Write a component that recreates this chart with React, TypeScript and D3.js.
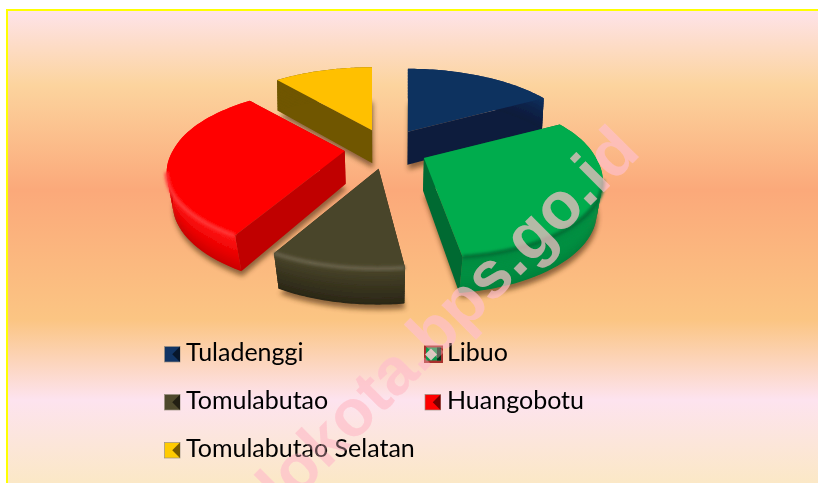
import React from "react";
import * as d3 from "d3";

const categories = ["Tuladenggi", "Libuo", "Tomulabutao", "Huangobotu", "Tomulabutao Selatan"];
const values = [17, 31, 10, 30.8, 11.2];
const topColors = ["#10315f", "#00ac4e", "#4a452a", "#ff0000", "#ffc000"];
const radialWallColors = ["#0c1c3e", "#006a32", "#2d2a18", "#c00000", "#6f5600"];
const outerWallColors = [
  ["#10315f", "#0c2248", "#0a1a38"],
  ["#008a40", "#009444", "#00803a"],
  ["#4a452a", "#38341f", "#2a2716"],
  ["#ff1a1a", "#f00000", "#c80000"],
  ["#6f5600", "#6f5600", "#6f5600"],
];
const rimColors = ["#10315f", "#006f35", "#66614a", "#ff3838", "#ffc000"];
const paintOrder = [4, 0, 3, 1, 2];
const legendMarks = [
  { x: 164.5, y: 346.5, text: 186, base: 361.2, index: 0 },
  { x: 425, y: 346.5, text: 447, base: 361.2, index: 1 },
  { x: 164.5, y: 394.5, text: 186, base: 409.2, index: 2 },
  { x: 425, y: 394.5, text: 447, base: 409.2, index: 3 },
  { x: 164.5, y: 442.5, text: 186, base: 457.2, index: 4 },
];
const backgroundStops: [number, string][] = [
  [10, "#fee3ea"], [85, "#fcd49e"], [190, "#fba97a"], [320, "#fbc583"], [400, "#fde3ef"], [483, "#fbe8c6"],
];
const watermark = "lokota.bps.go.id";

const W = 818, H = 483;
const CX = 386.5, CY = 149, EX = 42, EY = 20, SX = 172, KY = 77.3, Q = 0.227;

type P = [number, number];
const drop = (p: P, t: number): P => [p[0] - (p[0] - CX) * 0.04 * (t + 1) / 2 * 1.1, p[1] + 33 + 3 * t];
const line = d3.line<P>();

const arcs = d3.pie<number>().sort(null).startAngle(0).endAngle(2 * Math.PI)(values);

const slices = arcs.map((arc) => {
  const mid = (arc.startAngle + arc.endAngle) / 2;
  const offX = EX * Math.sin(mid);
  const apex: P = [CX + offX, CY - EY * Math.cos(mid)];
  const angle = d3.scaleLinear().domain([0, 48]).range([arc.startAngle, arc.endAngle]);
  const spread = offX > 0 ? 1 : 0.6;
  const samples = d3.range(49).map((i) => {
    const a = angle(i);
    const t = -Math.cos(a);
    const s = 1 / (1 - Q * t);
    return {
      p: [apex[0] + SX * Math.sin(a) * s + offX * spread * Math.max(0, s - 1), apex[1] + KY * t * s] as P,
      t,
    };
  });
  return { apex, samples };
});

function Marker({ x, y, i }: { x: number; y: number; i: number }) {
  const size = 15.5;
  const m = [x + size / 2, y + size / 2] as P;
  const poly = (pts: P[]) => pts.map((p) => p.join(",")).join(" ");
  const b: P = [x + size, y], c: P = [x + size, y + size];
  if (i === 1) {
    return (
      <g>
        <rect x={x - 1} y={y - 1} width={19} height={17.5} fill="#a8302c" />
        <polygon points={poly([[x + 1, y + 1], [x + 16, y + 1], [x + 16, y + 14], [x + 1, y + 14]])} fill="#0a9a4c" />
        <polygon points={poly([[x + 12, y + 1], [x + 16, y + 1], [x + 16, y + 14], [x + 12, y + 14]])} fill="#04301a" />
        <polygon points={poly([[x, y + 8], [x + 6, y + 2], [x + 12, y + 8], [x + 6, y + 14]])} fill="#d8c8c0" />
      </g>
    );
  }
  return (
    <g>
      <rect x={x} y={y} width={size} height={size} fill={d3.color(topColors[i])!.brighter(0.15).formatHex()} stroke="#9a9080" strokeWidth={0.7} />
      <polygon points={poly([b, c, m])} fill={d3.color(topColors[i])!.darker(2.2).formatHex()} />
    </g>
  );
}

export default function App() {
  const yFraction = d3.scaleLinear().domain([0, H]).range([0, 100]);
  return (
    <svg width={W} height={H} viewBox={`0 0 ${W} ${H}`} style={{ position: "absolute", left: 0, top: 0, display: "block" }}>
      <defs>
        <linearGradient id="bg" x1="0" y1="0" x2="0" y2="1">
          {backgroundStops.map(([y, c]) => (
            <stop key={y} offset={`${yFraction(y)}%`} stopColor={c} />
          ))}
        </linearGradient>
        <filter id="soft" x="-20%" y="-20%" width="140%" height="140%"><feGaussianBlur stdDeviation="0.45" /></filter>
        <filter id="rim" x="-20%" y="-20%" width="140%" height="140%"><feGaussianBlur stdDeviation="1.6" /></filter>
        <filter id="shadow" x="-20%" y="-20%" width="140%" height="140%"><feGaussianBlur stdDeviation="2.5" /></filter>
      </defs>
      <rect x={0} y={0} width={W} height={H} fill="#fff" />
      <rect x={0} y={0} width={W} height={H} fill="url(#bg)" clipPath="inset(10px 0 0 7px)" />
      <rect x={7} y={10} width={W + 20} height={H + 20} fill="none" stroke="#ffff00" strokeWidth={2} />

      <g>
        {paintOrder.map((idx) => {
          const s = slices[idx];
          const bottom = s.samples.map((q) => drop(q.p, q.t));
          const outline = [drop(s.apex, 0), ...bottom];
          return (
            <path key={idx} d={line(outline) + "Z"} fill="#4a2c08" opacity={0.6} transform="translate(1,5)" filter="url(#shadow)" />
          );
        })}
      </g>
      <g filter="url(#soft)">
        {paintOrder.map((idx) => {
          const s = slices[idx];
          const top: P[] = [s.apex, ...s.samples.map((q) => q.p)];
          const first = s.samples[0], last = s.samples[s.samples.length - 1];
          const apexB = drop(s.apex, 0);
          const wall = (q: { p: P; t: number }) =>
            line([s.apex, q.p, drop(q.p, q.t), apexB])! + "Z";
          const tint = d3.interpolateRgbBasis(outerWallColors[idx]);
          const fractions = d3.range(0, 1, 1 / 20);
          const mix = (q: { p: P; t: number }, f: number): P => {
            const b = drop(q.p, q.t);
            return [q.p[0] + (b[0] - q.p[0]) * f, q.p[1] + (b[1] - q.p[1]) * f];
          };
          const near = s.samples.filter((q) => q.t > 0.25).map((q) => q.p);
          return (
            <g key={idx}>
              <path d={wall(first)} fill={radialWallColors[idx]} />
              <path d={wall(last)} fill={radialWallColors[idx]} />
              {fractions.map((f) => {
                const upper = s.samples.map((q) => mix(q, f));
                const lower = s.samples.map((q) => mix(q, Math.min(1, f + 1 / 12))).reverse();
                return <path key={f} d={line([...upper, ...lower]) + "Z"} fill={tint(f)} />;
              })}
              <path d={line(top) + "Z"} fill={topColors[idx]} />
              {near.length > 1 && (
                <path d={line(near)!} fill="none" stroke={rimColors[idx]} strokeWidth={4} filter="url(#rim)" />
              )}
            </g>
          );
        })}
      </g>

      <text x={642} y={154} transform="rotate(-45 642 154)" textAnchor="end" fontFamily="Liberation Sans" fontWeight="bold" fontSize={66} fill="#ffc0cb" opacity={0.55}>
        {watermark}
      </text>

      <g style={{ filter: "blur(0.35px)" }}>
        {legendMarks.map((m) => (
          <g key={m.index}>
            <Marker x={m.x} y={m.y} i={m.index} />
            <text x={m.text} y={m.base} fontFamily="Lato" fontSize={25} fill="#000">
              {categories[m.index]}
            </text>
          </g>
        ))}
      </g>

      <text x={642} y={154} transform="rotate(-45 642 154)" textAnchor="end" fontFamily="Liberation Sans" fontWeight="bold" fontSize={66} fill="#ffc0cb" opacity={0.35}>
        {watermark}
      </text>
    </svg>
  );
}
